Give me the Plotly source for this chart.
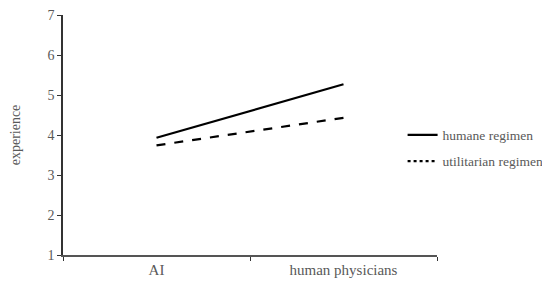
import plotly.graph_objects as go

categories = ["AI", "human physicians"]
humane = [3.93, 5.27]
utilitarian = [3.74, 4.43]

font = "Liberation Serif, Times New Roman, serif"
gray = "#595959"

fig = go.Figure()

# 图中线条
fig.add_trace(go.Scatter(x=categories, y=humane, mode="lines",
                         line=dict(color="black", width=2.2), showlegend=False))
fig.add_trace(go.Scatter(x=categories, y=utilitarian, mode="lines",
                         line=dict(color="black", width=2.2, dash="dash"), showlegend=False))

# 图例用 (图例中为点线), 两个图例分别定位
fig.add_trace(go.Scatter(x=[None], y=[None], mode="lines", name="humane regimen",
                         line=dict(color="black", width=2.2), legend="legend"))
fig.add_trace(go.Scatter(x=[None], y=[None], mode="lines", name="utilitarian regimen",
                         line=dict(color="black", width=2.2, dash="dot"), legend="legend2"))

legend_style = dict(xanchor="left", yanchor="middle",
                    font=dict(family=font, size=13.5, color=gray),
                    itemwidth=30, bgcolor="rgba(0,0,0,0)")

# 页面body有8px边距, 这里整体补偿
fig.update_layout(
    width=542, height=277,
    margin=dict(l=55, r=113, t=7, b=30, autoexpand=False),
    paper_bgcolor="white", plot_bgcolor="white",
    font=dict(family=font, size=14, color=gray),
    legend=dict(x=0.908, y=0.5, **legend_style),
    legend2=dict(x=0.908, y=0.39, **legend_style),
)
fig.update_xaxes(
    type="category", tickson="boundaries", ticks="outside", ticklen=4,
    tickcolor="#333333", showline=True, linecolor="#555555", linewidth=2,
    showgrid=False, zeroline=False, automargin=False,
    tickfont=dict(family=font, size=15, color=gray),
    range=[-0.5, 1.5],
)
fig.update_yaxes(
    range=[1, 7], dtick=1, ticks="outside", ticklen=4, tickcolor="#333333",
    showline=True, linecolor="#333333", linewidth=1.5,
    showgrid=False, zeroline=False, automargin=False,
    ticklabeloverflow="allow",
    tickfont=dict(family=font, size=14, color=gray),
    title=dict(text="experience", font=dict(family=font, size=14, color=gray), standoff=24),
)

fig.write_html("out.html")
